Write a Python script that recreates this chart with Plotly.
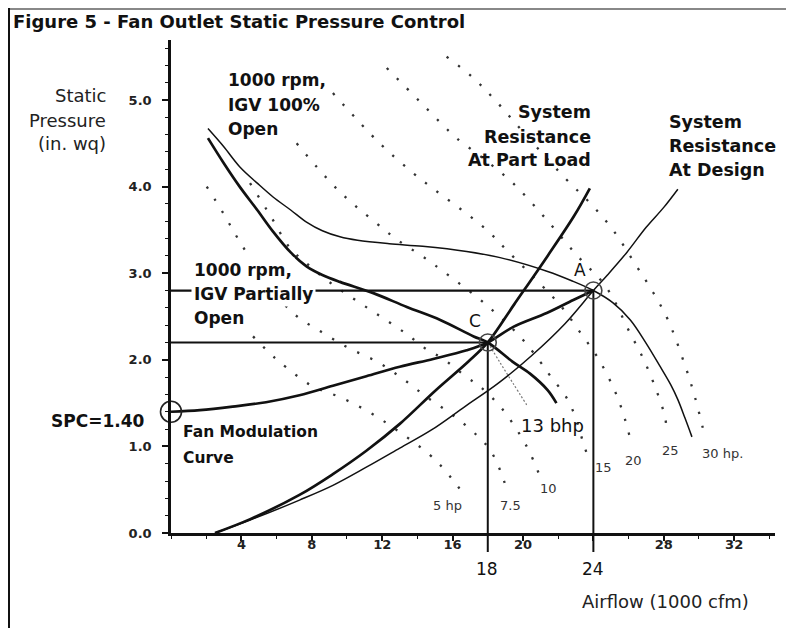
import plotly.graph_objects as go

# ---------------- data ----------------
FLOW_TICKS = [4, 8, 12, 16, 20, 24, 28, 32]
FLOW_TICK_TEXT = ["4", "8", "12", "16", "20", "", "28", "32"]

A_FLOW, A_SP = 24, 2.8      # design point A
C_FLOW, C_SP = 18, 2.2      # part-load point C
SPC_SP = 1.40               # static pressure set point

igv100_flow = [2.1, 3.0, 3.9, 4.9, 5.8, 6.8, 7.7, 8.6, 9.6, 10.6, 12.4, 14.3, 16.8, 18.7,
               21.4, 22.8, 24.0, 25.1, 26.1, 27.0, 27.8, 28.4, 28.8, 29.2, 29.6]
igv100_sp = [4.67, 4.46, 4.23, 4.04, 3.88, 3.73, 3.59, 3.49, 3.42, 3.38, 3.34, 3.31, 3.25, 3.18,
             3.02, 2.91, 2.80, 2.66, 2.46, 2.19, 1.92, 1.71, 1.54, 1.33, 1.11]

igvpart_flow = [2.1, 3.0, 3.9, 4.9, 5.8, 6.8, 7.7, 8.6, 9.6, 11.5, 13.4, 15.3, 17.2, 18.0,
                19.4, 20.4, 21.4, 21.9]
igvpart_sp = [4.56, 4.27, 4.00, 3.73, 3.48, 3.24, 3.08, 2.98, 2.90, 2.77, 2.61, 2.46, 2.27, 2.20,
              1.98, 1.84, 1.65, 1.50]

modulation_flow = [0, 1.65, 3.5, 5.4, 7.3, 9.2, 11.1, 13.0, 14.9, 16.8, 18.0, 19.45, 21.35, 22.86, 24.0]
modulation_sp = [1.40, 1.42, 1.46, 1.51, 1.59, 1.70, 1.81, 1.92, 2.01, 2.11, 2.20, 2.38, 2.54, 2.69, 2.80]

partload_flow = [2.5, 4.5, 7.3, 9.2, 11.1, 13.0, 15.0, 16.9, 18.0, 19.5, 21.4, 22.9, 23.8]
partload_sp = [0.0, 0.16, 0.44, 0.68, 0.95, 1.26, 1.64, 1.98, 2.20, 2.64, 3.20, 3.66, 3.98]

design_flow = [2.5, 4.5, 7.3, 9.2, 11.1, 13.0, 14.8, 16.7, 18.6, 20.5, 22.4, 24.0, 24.8, 25.9, 27.0, 28.0, 28.8]
design_sp = [0.0, 0.15, 0.38, 0.55, 0.76, 0.98, 1.19, 1.46, 1.73, 2.05, 2.42, 2.80, 2.98, 3.24, 3.53, 3.76, 3.97]

bhp5_flow = [4.66, 5.91, 6.57, 7.99, 9.70, 11.31, 12.82, 14.72, 15.45, 16.02, 16.52]
bhp5_sp = [2.27, 2.02, 1.91, 1.70, 1.56, 1.39, 1.19, 0.90, 0.75, 0.61, 0.48]

bhp7_flow = [2.03, 2.95, 3.92, 5.34, 6.93, 8.56, 10.06, 11.69, 13.11, 14.53, 16.02, 17.37, 18.13, 18.69, 19.07]
bhp7_sp = [4.00, 3.70, 3.36, 2.92, 2.54, 2.32, 2.14, 1.98, 1.79, 1.57, 1.36, 1.13, 0.96, 0.73, 0.51]

bhp10_flow = [4.49, 5.63, 6.76, 7.5, 8.85, 10.34, 11.76, 13.30, 14.6, 15.4, 16.8, 17.56, 18.79, 20.21, 20.97]
bhp10_sp = [4.04, 3.67, 3.29, 3.15, 2.92, 2.71, 2.52, 2.31, 2.11, 2.02, 1.80, 1.69, 1.44, 1.00, 0.65]

bhp13_flow = [18.0, 18.69, 19.43, 20.21]
bhp13_sp = [2.2, 1.97, 1.73, 1.48]

bhp15_flow = [7.14, 9.49, 11.59, 12.90, 14.32, 15.74, 17.94, 19.83, 20.97, 21.53, 22.48, 23.05, 23.41, 23.69]
bhp15_sp = [4.50, 3.96, 3.59, 3.38, 3.19, 2.98, 2.63, 2.27, 1.98, 1.82, 1.56, 1.30, 1.05, 0.88]

bhp20_flow = [9.20, 11.76, 13.68, 15.0, 16.52, 17.94, 19.15, 21.06, 22.2, 23.24, 24.26, 25.11, 25.68, 26.18]
bhp20_sp = [5.08, 4.52, 4.17, 3.96, 3.73, 3.50, 3.25, 2.86, 2.61, 2.32, 2.02, 1.69, 1.39, 1.02]

bhp25_flow = [12.26, 14.15, 15.45, 16.23, 17.84, 19.43, 21.25, 23.05, 24.76, 26.08, 26.82, 27.5, 28.07, 28.16]
bhp25_sp = [5.37, 4.98, 4.71, 4.56, 4.31, 4.04, 3.64, 3.21, 2.83, 2.31, 2.02, 1.69, 1.34, 1.17]

bhp30_flow = [15.66, 17.09, 18.41, 20.40, 22.48, 23.81, 25.04, 26.46, 27.39, 28.24, 29.20, 29.77, 30.34]
bhp30_sp = [5.50, 5.27, 5.00, 4.54, 4.08, 3.81, 3.52, 3.08, 2.78, 2.46, 1.94, 1.57, 1.11]

# ---------------- geometry ----------------
# the page body has an 8px margin, so the figure starts 8px in from the window corner
OFF = 8
W, H = 786, 620
L, T = 163, 32
PLOT_W, PLOT_H = 604, 493
X_MAX, Y_MAX = 34.32, 5.693
FONT = "DejaVu Sans"
INK = "#111111"


def px_x(px):
    """window pixel x -> paper fraction"""
    return (px - OFF - L) / PLOT_W


def px_y(py):
    """window pixel y -> paper fraction"""
    return (T + PLOT_H - (py - OFF)) / PLOT_H


fig = go.Figure()

# dotted constant-bhp lines
dotted = [(bhp5_flow, bhp5_sp), (bhp7_flow, bhp7_sp), (bhp10_flow, bhp10_sp),
          (bhp15_flow, bhp15_sp), (bhp20_flow, bhp20_sp), (bhp25_flow, bhp25_sp),
          (bhp30_flow, bhp30_sp)]
for fx, fy in dotted:
    fig.add_trace(go.Scatter(x=fx, y=fy, mode="lines",
                             line=dict(color="#333333", width=2.3, dash="2.3px,12px",
                                       shape="spline", smoothing=1.0),
                             hoverinfo="skip"))
fig.add_trace(go.Scatter(x=bhp13_flow, y=bhp13_sp, mode="lines",
                         line=dict(color="#777777", width=1.2, dash="2px,2px", shape="spline"),
                         hoverinfo="skip"))

# guide lines to A and C
fig.add_trace(go.Scatter(x=[0, A_FLOW], y=[A_SP, A_SP], mode="lines",
                         line=dict(color=INK, width=2.2), hoverinfo="skip"))
fig.add_trace(go.Scatter(x=[0, C_FLOW], y=[C_SP, C_SP], mode="lines",
                         line=dict(color=INK, width=2.2), hoverinfo="skip"))
fig.add_trace(go.Scatter(x=[A_FLOW, A_FLOW], y=[A_SP, 0], mode="lines",
                         line=dict(color=INK, width=2.0), hoverinfo="skip"))
fig.add_trace(go.Scatter(x=[C_FLOW, C_FLOW], y=[C_SP, 0], mode="lines",
                         line=dict(color=INK, width=2.0), hoverinfo="skip"))

# fan curves and system curves
thin = dict(color=INK, width=1.5, shape="spline", smoothing=1.0)
thick = dict(color=INK, width=2.7, shape="spline", smoothing=1.0)
fig.add_trace(go.Scatter(x=igv100_flow, y=igv100_sp, mode="lines", line=thin, hoverinfo="skip"))
fig.add_trace(go.Scatter(x=design_flow, y=design_sp, mode="lines", line=thin, hoverinfo="skip"))
fig.add_trace(go.Scatter(x=igvpart_flow, y=igvpart_sp, mode="lines", line=thick, hoverinfo="skip"))
fig.add_trace(go.Scatter(x=partload_flow, y=partload_sp, mode="lines", line=thick, hoverinfo="skip"))
fig.add_trace(go.Scatter(x=modulation_flow, y=modulation_sp, mode="lines", line=thick, hoverinfo="skip"))

# circled points
fig.add_trace(go.Scatter(x=[A_FLOW, C_FLOW], y=[A_SP, C_SP], mode="markers", cliponaxis=False,
                         marker=dict(symbol="circle-open", size=17, color="#444444",
                                     line=dict(width=1.6, color="#444444")),
                         hoverinfo="skip"))
fig.add_trace(go.Scatter(x=[0], y=[SPC_SP], mode="markers", cliponaxis=False,
                         marker=dict(symbol="circle-open", size=21, color="#222222",
                                     line=dict(width=1.6, color="#222222")),
                         hoverinfo="skip"))

# ---------------- text ----------------
annotations = []


def note(text, px, py, size=17, bold=False, xanchor="left", color=INK, bg=None):
    d = dict(text=text, x=px_x(px), y=px_y(py), xref="paper", yref="paper",
             xanchor=xanchor, yanchor="middle", showarrow=False,
             font=dict(family=FONT, size=size, color=color,
                       weight="bold" if bold else "normal"))
    if bg:
        d.update(bgcolor=bg, borderpad=2)
    annotations.append(d)


note("Figure 5 - Fan Outlet Static Pressure Control", 11, 21, size=18, bold=True)

for txt, py in [("Static", 95), ("Pressure", 120), ("(in. wq)", 143)]:
    note(txt, 108, py, size=18, xanchor="right", color="#222222")

for txt, py in [("1000 rpm,", 80), ("IGV 100%", 105), ("Open", 129)]:
    note(txt, 226, py, size=17, bold=True)

for txt, py in [("1000 rpm,", 270), ("IGV Partially", 294), ("Open", 318)]:
    note(txt, 191, py, size=17, bold=True, bg="white")

for txt, py in [("System", 112), ("Resistance", 137), ("At Part Load", 160)]:
    note(txt, 593, py, size=17.5, bold=True, xanchor="right")

for txt, py in [("System", 122), ("Resistance", 146), ("At Design", 170)]:
    note(txt, 667, py, size=17.5, bold=True)

note("SPC=1.40", 98, 421, size=17, bold=True, xanchor="center")
note("Fan Modulation", 181, 432, size=15.5, bold=True)
note("Curve", 181, 458, size=15.5, bold=True)

note("A", 580, 270, size=17, xanchor="center")
note("C", 475, 321, size=17, xanchor="center")
note("13 bhp", 552, 425, size=18, xanchor="center")

hp_labels = ["5 hp", "7.5", "10", "15", "20", "25", "30 hp."]
hp_label_px = [(447, 505), (510, 505), (548, 488), (603, 468), (633, 460), (670, 450), (722, 453)]
for txt, (px, py) in zip(hp_labels, hp_label_px):
    note(txt, px, py, size=13, xanchor="center", color="#333333")

note(str(C_FLOW), 487, 569, size=17, xanchor="center")
note(str(A_FLOW), 593, 569, size=17, xanchor="center")
note("Airflow (1000 cfm)", 665, 601, size=18, xanchor="center", color="#222222")

# ---------------- frame & tick extensions ----------------
shapes = [
    dict(type="line", xref="paper", yref="paper", x0=px_x(OFF), x1=px_x(OFF + W), y0=px_y(OFF + 1),
         y1=px_y(OFF + 1), line=dict(color="#888888", width=2)),
    dict(type="line", xref="paper", yref="paper", x0=px_x(OFF + 1), x1=px_x(OFF + 1), y0=px_y(OFF),
         y1=px_y(OFF + H), line=dict(color=INK, width=2)),
    dict(type="line", xref="x", yref="paper", x0=C_FLOW, x1=C_FLOW, y0=0, y1=px_y(552),
         line=dict(color=INK, width=2)),
    dict(type="line", xref="x", yref="paper", x0=A_FLOW, x1=A_FLOW, y0=0, y1=px_y(552),
         line=dict(color=INK, width=2)),
]

fig.update_layout(
    width=W, height=H,
    margin=dict(l=L, r=W - L - PLOT_W, t=T, b=H - T - PLOT_H, pad=0),
    paper_bgcolor="white", plot_bgcolor="white",
    showlegend=False,
    annotations=annotations,
    shapes=shapes,
    xaxis=dict(range=[0, X_MAX], showgrid=False, zeroline=False, automargin=False,
               showline=True, linecolor=INK, linewidth=2.5,
               tickmode="array", tickvals=FLOW_TICKS, ticktext=FLOW_TICK_TEXT,
               ticks="outside", ticklen=5, tickwidth=1.5, tickcolor=INK,
               ticklabelstandoff=-7,
               tickfont=dict(family=FONT, size=13, color="#222222", weight="bold"),
               minor=dict(dtick=2, tick0=0, ticks="outside", ticklen=3, tickwidth=1, tickcolor=INK)),
    yaxis=dict(range=[0, Y_MAX], showgrid=False, zeroline=False, automargin=False,
               showline=True, linecolor=INK, linewidth=2.5,
               tickmode="linear", tick0=0, dtick=1, tickformat=".1f",
               ticks="outside", ticklen=6, tickwidth=1.5, tickcolor=INK,
               ticklabelstandoff=8,
               tickfont=dict(family=FONT, size=13, color="#222222", weight="bold"),
               minor=dict(dtick=0.2, tick0=0, ticks="outside", ticklen=3, tickwidth=1, tickcolor=INK)),
)

fig.write_html("out.html")
